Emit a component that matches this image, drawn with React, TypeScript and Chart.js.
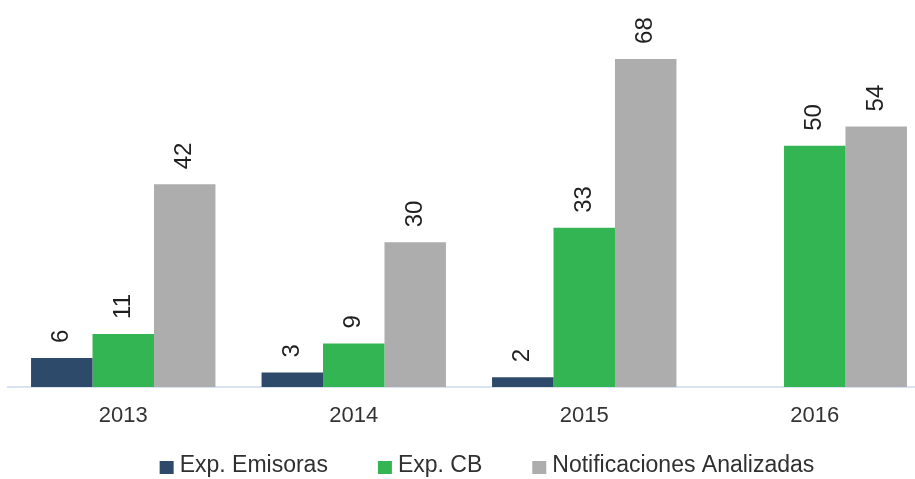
import React, { useEffect, useRef } from "react";
import { Chart, registerables } from "chart.js";

Chart.register(...registerables);

const categories = ["2013", "2014", "2015", "2016"];
const seriesNames = ["Exp. Emisoras", "Exp. CB", "Notificaciones Analizadas"];
const expEmisoras: (number | null)[] = [6, 3, 2, null];
const expCB: (number | null)[] = [11, 9, 33, 50];
const notificaciones: (number | null)[] = [42, 30, 68, 54];
const seriesColors = ["#2e4a6b", "#34b553", "#adadad"];

const FONT = '"Liberation Sans", Arial, Helvetica, sans-serif';
const LEGEND_CENTER_X = 487;
const LEGEND_BASELINE_Y = 472;
const LEGEND_FONT = 23;
const LEGEND_BOX = 14;
const LEGEND_TEXT_GAP = 6;
const LEGEND_ITEM_GAP = 50;

const valueLabels = {
  id: "valueLabels",
  afterDatasetsDraw(chart: any) {
    const ctx = chart.ctx;
    ctx.save();
    ctx.font = `24px ${FONT}`;
    ctx.fillStyle = "#1f1f1f";
    ctx.textAlign = "left";
    ctx.textBaseline = "middle";
    chart.data.datasets.forEach((ds: any, i: number) => {
      const meta = chart.getDatasetMeta(i);
      meta.data.forEach((el: any, j: number) => {
        const v = ds.data[j];
        if (v == null) return;
        ctx.save();
        ctx.translate(el.x, el.y - 15);
        ctx.rotate(-Math.PI / 2);
        ctx.fillText(String(v), 0, 0);
        ctx.restore();
      });
    });
    ctx.restore();
  },
};

const bottomLegend = {
  id: "bottomLegend",
  afterDraw(chart: any) {
    const ctx = chart.ctx;
    ctx.save();
    ctx.font = `${LEGEND_FONT}px ${FONT}`;
    ctx.textBaseline = "alphabetic";
    ctx.textAlign = "left";
    const items = chart.data.datasets.map((ds: any) => ({
      text: ds.label as string,
      color: ds.backgroundColor as string,
      w: ctx.measureText(ds.label).width,
    }));
    const total =
      items.reduce((s: number, it: any) => s + LEGEND_BOX + LEGEND_TEXT_GAP + it.w, 0) +
      LEGEND_ITEM_GAP * (items.length - 1);
    let x = LEGEND_CENTER_X - total / 2;
    items.forEach((it: any) => {
      ctx.fillStyle = it.color;
      ctx.fillRect(x, LEGEND_BASELINE_Y - 11, LEGEND_BOX, LEGEND_BOX - 1);
      ctx.fillStyle = "#303030";
      ctx.fillText(it.text, x + LEGEND_BOX + LEGEND_TEXT_GAP, LEGEND_BASELINE_Y);
      x += LEGEND_BOX + LEGEND_TEXT_GAP + it.w + LEGEND_ITEM_GAP;
    });
    ctx.restore();
  },
};

export default function App() {
  const ref = useRef<HTMLCanvasElement | null>(null);

  useEffect(() => {
    if (!ref.current) return;
    const seriesData = [expEmisoras, expCB, notificaciones];
    const chart = new Chart(ref.current, {
      type: "bar",
      data: {
        labels: categories,
        datasets: seriesNames.map((name, i) => ({
          label: name,
          data: seriesData[i],
          backgroundColor: seriesColors[i],
          borderWidth: 0,
          barPercentage: 1,
          categoryPercentage: 0.8,
        })),
      },
      options: {
        responsive: false,
        animation: false,
        layout: { padding: { left: 8, right: 0, top: 1, bottom: 0 } },
        plugins: {
          legend: { display: false },
          tooltip: { enabled: false },
        },
        scales: {
          x: {
            grid: { display: false, drawTicks: false },
            border: { display: true, color: "#d8e2f0", width: 2 },
            ticks: {
              color: "#333333",
              font: { family: FONT, size: 22 },
              padding: 16,
              maxRotation: 0,
            },
            afterFit: (scale: any) => {
              scale.height = 92;
            },
          },
          y: {
            display: false,
            min: 0,
            max: 80,
          },
        },
      },
      plugins: [valueLabels, bottomLegend],
    });
    return () => chart.destroy();
  }, []);

  return (
    <div
      style={{
        position: "fixed",
        left: 0,
        top: 0,
        width: 915,
        height: 479,
        overflow: "hidden",
        background: "#ffffff",
      }}
    >
      <canvas ref={ref} width={930} height={479} style={{ display: "block" }} />
    </div>
  );
}
